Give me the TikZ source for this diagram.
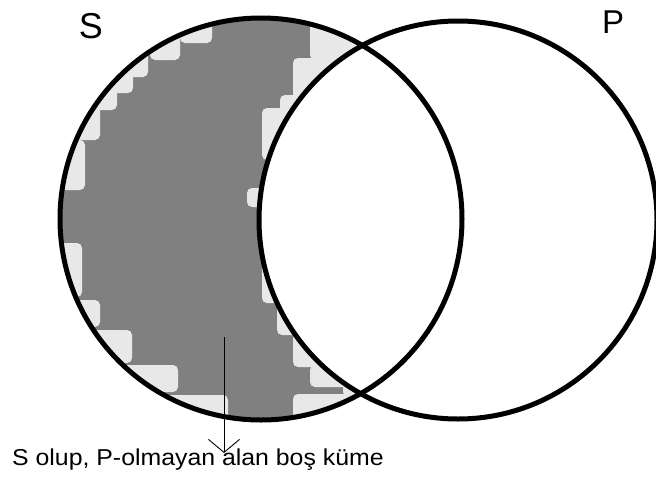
\documentclass[tikz,border=0pt]{standalone}
\usepackage{fontspec}
\setmainfont{Liberation Sans}
\usetikzlibrary{arrows.meta}
\definecolor{crescentgray}{RGB}{128,128,128}
\definecolor{speckgray}{RGB}{232,232,232}
\begin{document}
\begin{tikzpicture}[x=1pt,y=-1pt,
  ring/.style={circle,draw=black,line width=5pt,minimum size=#1,inner sep=0pt,outer sep=0pt},
  setlabel/.style={anchor=base,font=\fontsize{36}{40}\selectfont},
  caption/.style={anchor=base west,inner sep=0pt,font=\fontsize{23}{27}\selectfont,xscale=1.08},
  pointer/.style={line width=0.9pt,-{Straight Barb[length=13pt,width=31pt,line width=0.9pt]}}]
\useasboundingbox (0,0) rectangle (656,491);
\fill[white] (0,0) rectangle (656,491);
\begin{scope}
  \clip (261,219) circle[radius=201pt];
  \fill[crescentgray] (50,0) rectangle (470,430);
  \foreach \a/\b/\c/\d in {
    180/10/212/43, 150/25/180/60, 120/40/148/77, 100/55/133/93, 85/70/117/110,
    60/95/100/140, 50/140/85/190, 50/243/82/297, 55/300/100/327, 70/330/132/363,
    110/365/178/392, 165/395/228/425, 293/394/350/425,
    310/10/380/60, 293/58/340/100, 280/95/330/115, 262/108/310/160,
    247/188/275/207, 262/253/300/303, 277/300/320/335, 293/333/330/367,
    310/365/370/387, 343/383/370/397}
    \fill[speckgray,rounded corners=5pt] (\a,\b) rectangle (\c,\d);
  \fill[white] (458,220) circle[radius=199pt];
\end{scope}
\node[ring=402pt] (S) at (261,219) {};
\node[ring=398pt] (P) at (458,220) {};
\node[setlabel] (Slab) at (91,38) {S};
\node[setlabel,font=\fontsize{33}{38}\selectfont] (Plab) at (613,33) {P};
\node[caption] (cap) at (12,465) {S olup, P-olmayan alan boş küme};
\coordinate (from) at (224,337);
\coordinate (tip) at (224,453);
\draw[pointer] (from) -- (tip);
\end{tikzpicture}
\end{document}
